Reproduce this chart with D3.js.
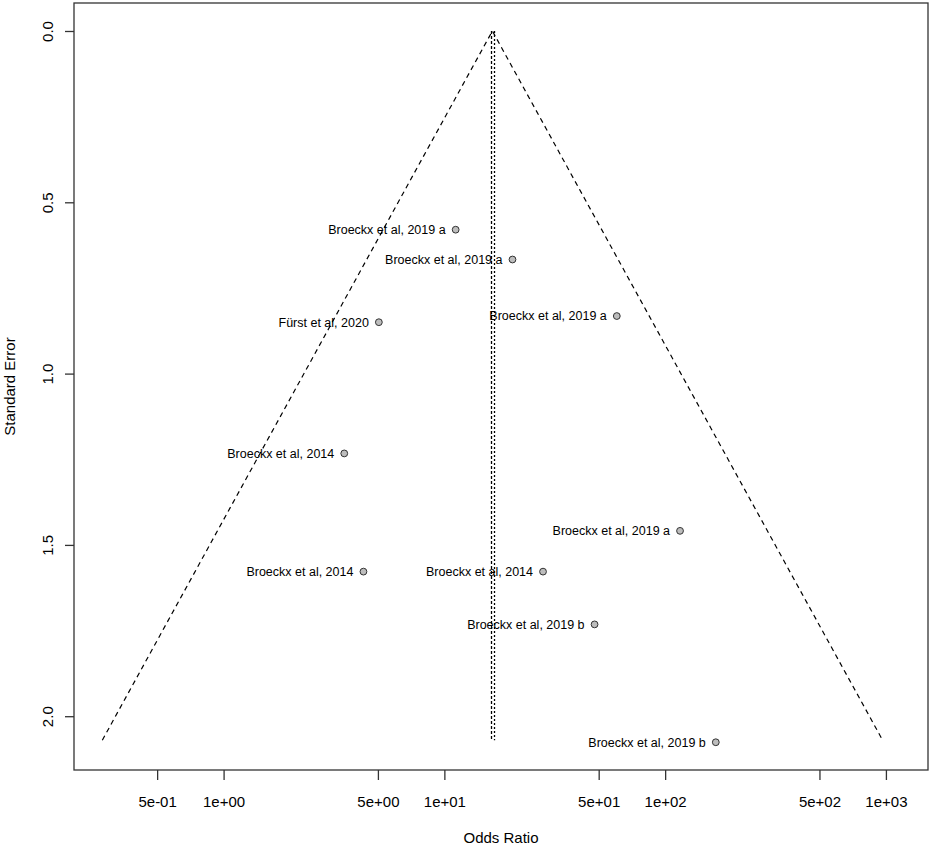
<!DOCTYPE html>
<html>
<head>
<meta charset="utf-8">
<script src="https://cdn.jsdelivr.net/npm/d3@7"></script>
<style>
  body { margin: 0; background: #fff; }
  text { font-family: "Liberation Sans", Arial, sans-serif; fill: #000; }
</style>
</head>
<body>
<div id="chart"></div>
<script>
// study labels, odds ratios and standard errors
var studies = [
    "Broeckx et al, 2019 a",
    "Broeckx et al, 2019 a",
    "Fürst et al, 2020",
    "Broeckx et al, 2019 a",
    "Broeckx et al, 2014",
    "Broeckx et al, 2019 a",
    "Broeckx et al, 2014",
    "Broeckx et al, 2014",
    "Broeckx et al, 2019 b",
    "Broeckx et al, 2019 b"
];
var oddsRatios = [11.25, 20.35, 5.05, 60.4, 3.52, 116.8, 4.30, 27.98, 47.9, 169.6];
var stdErrors = [0.580, 0.667, 0.850, 0.832, 1.233, 1.459, 1.578, 1.578, 1.732, 2.076];

// funnel: apex estimate, bottom SE and the two bottom bounds
var funnelCenter = 16.5;
var funnelSE = 2.07;
var funnelBounds = [0.2823, 966];
// vertical reference lines (two estimates)
var refLines = [16.35, 16.87];

var xTicks = [0.5, 1, 5, 10, 50, 100, 500, 1000];
var xTickLabels = ["5e-01", "1e+00", "5e+00", "1e+01", "5e+01", "1e+02", "5e+02", "1e+03"];
var yTicks = [0, 0.5, 1, 1.5, 2];
var yTickLabels = ["0.0", "0.5", "1.0", "1.5", "2.0"];

var svgWidth = 935;
var svgHeight = 849;

var box = { left: 74, right: 928, top: 3, bottom: 770 };

var svg = d3.select("#chart")
    .append("svg")
    .attr("width", svgWidth)
    .attr("height", svgHeight);

var xScale = d3.scaleLog()
    .domain([0.2101, 1551])
    .range([box.left, box.right]);

var yScale = d3.scaleLinear()
    .domain([-0.0817, 2.157])
    .range([box.top, box.bottom]);

// funnel lines
var line = d3.line()
    .x(d => xScale(d[0]))
    .y(d => yScale(d[1]));

var funnel = [
    [funnelBounds[0], funnelSE],
    [funnelCenter, 0],
    [funnelBounds[1], funnelSE]
];

svg.append("path")
    .attr("d", line(funnel))
    .attr("fill", "none")
    .attr("stroke", "#000")
    .attr("stroke-width", 1.2)
    .attr("stroke-dasharray", "5,4");

// reference lines
svg.selectAll(".ref")
    .data(refLines)
    .enter().append("line")
    .attr("class", "ref")
    .attr("x1", d => xScale(d))
    .attr("x2", d => xScale(d))
    .attr("y1", yScale(0))
    .attr("y2", yScale(funnelSE))
    .attr("stroke", "#000")
    .attr("stroke-width", 1.3)
    .attr("stroke-dasharray", (d, i) => i === 0 ? "3,2" : "2,2");

// points and labels
var pts = oddsRatios.map((v, i) => ({ or: v, se: stdErrors[i], label: studies[i] }));

svg.selectAll(".lbl")
    .data(pts)
    .enter().append("text")
    .attr("class", "lbl")
    .attr("x", d => xScale(d.or) - 10)
    .attr("y", d => yScale(d.se))
    .attr("dy", "0.35em")
    .attr("text-anchor", "end")
    .style("font-size", "12.5px")
    .text(d => d.label);

svg.selectAll(".pt")
    .data(pts)
    .enter().append("circle")
    .attr("class", "pt")
    .attr("cx", d => xScale(d.or))
    .attr("cy", d => yScale(d.se))
    .attr("r", 3.4)
    .attr("fill", "#bdbdbd")
    .attr("stroke", "#333")
    .attr("stroke-width", 1);

// box
svg.append("rect")
    .attr("x", box.left)
    .attr("y", box.top)
    .attr("width", box.right - box.left)
    .attr("height", box.bottom - box.top)
    .attr("fill", "none")
    .attr("stroke", "#333")
    .attr("stroke-width", 1.3);

// x axis
var xAxis = svg.append("g")
    .attr("transform", `translate(0,${box.bottom})`)
    .call(d3.axisBottom(xScale)
        .tickValues(xTicks)
        .tickFormat((d, i) => xTickLabels[i])
        .tickSize(10)
        .tickPadding(16));
xAxis.select(".domain").remove();
xAxis.selectAll("line").attr("stroke", "#333").attr("stroke-width", 1.3);
xAxis.selectAll("text")
    .style("font-size", "15px")
    .style("font-family", "Liberation Sans, Arial, sans-serif");

// y axis
var yAxis = svg.append("g")
    .attr("transform", `translate(${box.left},0)`)
    .call(d3.axisLeft(yScale)
        .tickValues(yTicks)
        .tickFormat((d, i) => yTickLabels[i])
        .tickSize(9));
yAxis.select(".domain").remove();
yAxis.selectAll("line").attr("stroke", "#333").attr("stroke-width", 1.3);
yAxis.selectAll("text")
    .attr("x", null)
    .attr("dy", null)
    .attr("transform", "translate(-27,0) rotate(-90)")
    .attr("text-anchor", "middle")
    .attr("dominant-baseline", "central")
    .style("font-size", "15px")
    .style("font-family", "Liberation Sans, Arial, sans-serif");

// axis titles
svg.append("text")
    .attr("x", (box.left + box.right) / 2)
    .attr("y", 838)
    .attr("dy", "0.35em")
    .attr("text-anchor", "middle")
    .style("font-size", "15px")
    .text("Odds Ratio");

svg.append("text")
    .attr("transform", `translate(10,${(box.top + box.bottom) / 2}) rotate(-90)`)
    .attr("dy", "0.35em")
    .attr("text-anchor", "middle")
    .style("font-size", "15px")
    .text("Standard Error");
</script>
</body>
</html>
